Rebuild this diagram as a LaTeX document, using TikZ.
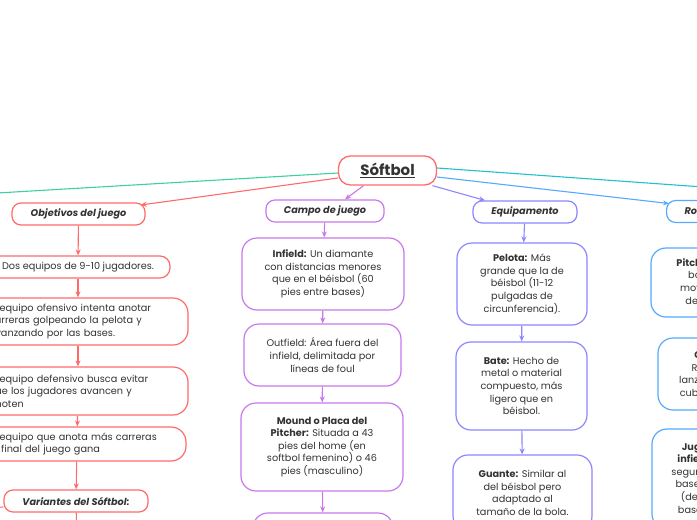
\documentclass[tikz,border=0pt]{standalone}
\usepackage{fontspec}
\setmainfont{Poppins}
\usepackage{xcolor}
\usetikzlibrary{arrows.meta, positioning}

\definecolor{mapred}{RGB}{255,107,107}
\definecolor{mappurple}{RGB}{200,120,235}
\definecolor{maplilac}{RGB}{140,135,255}
\definecolor{mapblue}{RGB}{85,170,255}
\definecolor{mapgreen}{RGB}{60,210,160}
\definecolor{mapteal}{RGB}{30,195,205}
\definecolor{maptext}{RGB}{51,51,51}

\begin{document}
\begin{tikzpicture}[
  x=1pt, y=-1pt,
  root/.style={draw=mapred, line width=1.3pt, rounded corners=12pt, minimum width=98pt, minimum height=29pt, font=\fontsize{15}{18}\selectfont\bfseries},
  topic/.style={draw=#1, line width=1.2pt, rounded corners=9pt, minimum height=22pt, inner xsep=18pt, inner ysep=0pt, font=\fontsize{9.7}{12}\selectfont\bfseries\itshape},
  leaf/.style={draw=#1, line width=1.2pt, rounded corners=15pt, align=center, inner xsep=10pt, font=\fontsize{9.7}{12.6}\selectfont},
  link/.style={draw=#1, line width=1.1pt, -{Stealth[length=6pt, width=5pt]}},
  text=maptext
]
\path[fill=white, use as bounding box] (0,0) rectangle (697,520);

\node[root] (softbol) at (387.5,170.5) {\underline{Sóftbol}};

% Objetivos del juego
\node[topic=mapred, minimum width=133pt] (objetivos) at (78.5,214) {Objetivos del juego};
\node[leaf=mapred, rounded corners=10pt, minimum width=184pt, minimum height=22pt, inner ysep=0pt] (equipos) at (78,267) {Dos equipos de 9-10 jugadores.};
\node[leaf=mapred, text width=178pt, align=left, inner xsep=21pt, minimum height=47pt] (ofensivo) at (78,321.5) {El equipo ofensivo intenta anotar\\carreras golpeando la pelota y\\avanzando por las bases.};
\node[leaf=mapred, text width=178pt, align=left, inner xsep=21pt, minimum height=48pt] (defensivo) at (78,391) {El equipo defensivo busca evitar\\que los jugadores avancen y\\anoten};
\node[leaf=mapred, text width=176pt, align=left, inner xsep=21pt, minimum height=34pt] (ganador) at (77,444) {El equipo que anota más carreras\\al final del juego gana};
\node[topic=mapred, minimum width=144pt] (variantes) at (76,501) {Variantes del Sóftbol:};
\coordinate (variantesbajo) at (77,545);
\coordinate (variantesizq) at (-30,509);

% Campo de juego
\node[topic=mappurple, minimum width=118pt] (campo) at (325,211) {Campo de juego};
\node[leaf=mappurple, minimum width=162pt, minimum height=72pt] (infield) at (323,274) {\textbf{Infield:} Un diamante\\con distancias menores\\que en el béisbol (60\\pies entre bases)};
\node[leaf=mappurple, minimum width=157pt, minimum height=62pt] (outfield) at (322.5,355) {Outfield: Área fuera del\\infield, delimitada por\\líneas de foul};
\node[leaf=mappurple, minimum width=162pt, minimum height=88pt] (mound) at (322,447) {\textbf{Mound o Placa del}\\\textbf{Pitcher:} Situada a 43\\pies del home (en\\softbol femenino) o 46\\pies (masculino)};
\node[leaf=mappurple, minimum width=140pt, minimum height=44pt] (campomas) at (323,535) {};

% Equipamento
\node[topic=maplilac, minimum width=104pt] (equipamento) at (525,212) {Equipamento};
\node[leaf=maplilac, minimum width=130pt, minimum height=82pt] (pelota) at (522,284) {\textbf{Pelota:} Más\\grande que la de\\béisbol (11-12\\pulgadas de\\circunferencia).};
\node[leaf=maplilac, minimum width=131pt, minimum height=88pt] (bate) at (521.5,386) {\textbf{Bate:} Hecho de\\metal o material\\compuesto, más\\ligero que en\\béisbol.};
\node[leaf=maplilac, minimum width=139pt, minimum height=76pt] (guante) at (522.5,493) {\textbf{Guante:} Similar al\\del béisbol pero\\adaptado al\\tamaño de la bola.};

% Roles
\node[topic=mapblue, anchor=west] (roles) at (666,211.5) {Roles de juego};
\node[leaf=mapblue, minimum width=132pt, minimum height=69pt] (pitcher) at (717,282.5) {\textbf{Pitcher:} Lanza la\\bola con un\\movimiento de\\desde abajo.};
\node[leaf=mapblue, minimum width=116pt, minimum height=72pt] (catcher) at (716,374) {\textbf{Catcher:}\\Recibe los\\lanzamientos y\\cubre el home.};
\node[leaf=mapblue, minimum width=128pt, minimum height=100pt] (infielders) at (716,479) {\textbf{Jugadores de}\\\textbf{infield:} Primera,\\segunda y tercera\\base y shortstop\\(defienden las\\bases e infield).};

% ramas
\coordinate (izquierda) at (-20,194);
\coordinate (derecha) at (720,188.2);
\draw[mapgreen, line width=1.1pt] ([yshift=-2.5pt]softbol.west) -- (izquierda);
\draw[link=mapred] ([yshift=-7.5pt]softbol.west) -- ([xshift=-5pt,yshift=9pt]objetivos.east);
\draw[link=mappurple] ([xshift=-24pt]softbol.south) -- ([xshift=20pt]campo.north);
\draw[link=maplilac] ([xshift=45pt]softbol.south) -- ([xshift=-40pt]equipamento.north);
\draw[link=mapblue] ([yshift=-6.5pt]softbol.east) -- ([xshift=3pt,yshift=8pt]roles.west);
\draw[mapteal, line width=1.1pt] ([yshift=2.5pt]softbol.east) -- (derecha);

\draw[link=mapred] (objetivos) -- (equipos);
\draw[link=mapred] (equipos) -- (ofensivo);
\draw[link=mapred] (ofensivo) -- (defensivo);
\draw[link=mapred] (defensivo) -- (ganador);
\draw[link=mapred] (ganador) -- (variantes);
\draw[link=mapred] (variantes) -- (variantesbajo);
\draw[mapred, line width=1.1pt] ([yshift=-6pt]variantes.west) -- (variantesizq);

\draw[link=mappurple] (campo) -- (infield);
\draw[link=mappurple] (infield) -- (outfield);
\draw[link=mappurple] (outfield) -- (mound);
\draw[link=mappurple] (mound) -- (campomas);

\draw[link=maplilac] (equipamento) -- (pelota);
\draw[link=maplilac] (pelota) -- (bate);
\draw[link=maplilac] (bate) -- (guante);

\draw[link=mapblue] (roles) -- (pitcher);
\draw[link=mapblue] (pitcher) -- (catcher);
\draw[link=mapblue] (catcher) -- (infielders);
\end{tikzpicture}
\end{document}
